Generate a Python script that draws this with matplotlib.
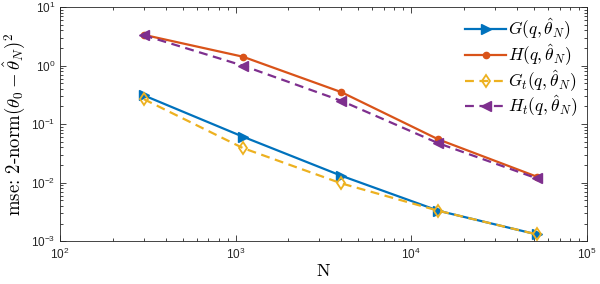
import math

import matplotlib
matplotlib.use('Agg')
import matplotlib.pyplot as plt
from matplotlib.ticker import FuncFormatter, LogLocator, NullFormatter

plt.rcParams['font.family'] = ['Liberation Sans', 'DejaVu Sans']
plt.rcParams['mathtext.fontset'] = 'custom'
plt.rcParams['mathtext.rm'] = 'Liberation Sans'
plt.rcParams['mathtext.it'] = 'Liberation Sans:italic'

# data
N = [300, 1100, 4000, 14300, 52000]
G = [0.31, 0.061, 0.0131, 0.0033, 0.0013]
H = [3.36, 1.42, 0.352, 0.0547, 0.0126]
Gt = [0.267, 0.039, 0.0097, 0.0033, 0.0013]
Ht = [3.3, 1.0, 0.25, 0.047, 0.0118]

labels = [r'$G(q,\hat{\theta}_N)$', r'$H(q,\hat{\theta}_N)$',
          r'$G_t(q,\hat{\theta}_N)$', r'$H_t(q,\hat{\theta}_N)$']

c_blue, c_red, c_yel, c_pur = '#0072BD', '#D95319', '#EDB120', '#7E2F8E'

fig = plt.figure(figsize=(6.0, 2.84), dpi=100)
ax = fig.add_axes([0.1, 0.151, 0.878, 0.824])

ax.plot(N, G, '-', color=c_blue, lw=1.6, marker='>', ms=7, label=labels[0])
ax.plot(N, H, '-', color=c_red, lw=1.6, marker='o', ms=4.5, label=labels[1])
ax.plot(N, Gt, '--', color=c_yel, lw=1.6, marker='d', ms=6, mfc='none',
        mew=1.3, label=labels[2], dashes=(4, 2.5))
ax.plot(N, Ht, '--', color=c_pur, lw=1.6, marker='<', ms=7, label=labels[3],
        dashes=(4, 2.5))

ax.set_xscale('log')
ax.set_yscale('log')
ax.set_xlim(1e2, 1e5)
ax.set_ylim(1e-3, 1e1)

fmt = FuncFormatter(lambda v, p: r'$\mathdefault{10^{%d}}$' % round(math.log10(v)))
ax.xaxis.set_major_formatter(fmt)
ax.yaxis.set_major_formatter(fmt)
ax.xaxis.set_minor_locator(LogLocator(subs=range(2, 10)))
ax.yaxis.set_minor_locator(LogLocator(subs=range(2, 10)))
ax.xaxis.set_minor_formatter(NullFormatter())
ax.yaxis.set_minor_formatter(NullFormatter())

ax.tick_params(which='both', direction='in', top=True, right=True,
               colors='#262626', labelsize=8.5, width=0.6)
ax.tick_params(which='major', length=4)
ax.tick_params(which='minor', length=2.2)
ax.tick_params(axis='x', pad=4)
for s in ax.spines.values():
    s.set_color('#262626')
    s.set_linewidth(0.6)

xl = ax.set_xlabel('N', fontsize=13, family='cmr10', labelpad=1)
yl = ax.set_ylabel('mse: 2-norm' + r'$(\theta_0 - \hat{\theta}_N)^2$',
                   fontsize=13.5, family='cmr10', labelpad=3)
yl.set_math_fontfamily('cm')

leg = ax.legend(loc='upper right', frameon=False, fontsize=12.5,
                handlelength=2.4, handletextpad=0.1, labelspacing=0.0,
                borderaxespad=0.15)
for t in leg.get_texts():
    t.set_math_fontfamily('cm')

fig.savefig('out.png', dpi=100)
